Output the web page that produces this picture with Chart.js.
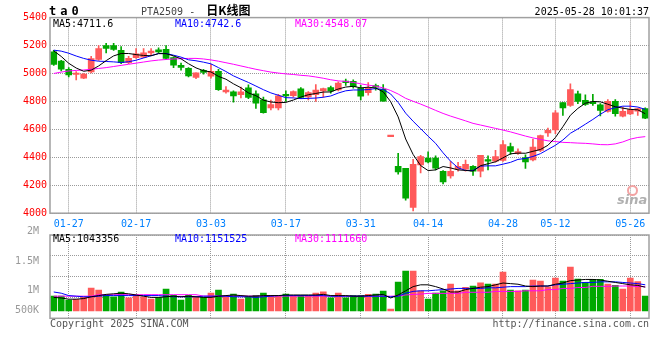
<!DOCTYPE html>
<html>
<head>
<meta charset="utf-8">
<script src="https://cdn.jsdelivr.net/npm/chart.js@4.4.0/dist/chart.umd.min.js"></script>
<style>
  body { margin: 0; background: #fff; }
  #wrap { position: relative; width: 660px; height: 360px; overflow: hidden; }
  #wrap canvas { position: absolute; left: 0; }
  .t { position: absolute; white-space: pre; font: 10px "DejaVu Sans Mono", monospace; line-height: 12px; }
</style>
</head>
<body>
<div id="wrap">
  <canvas id="kChart" width="660" height="232" style="top:0"></canvas>
  <canvas id="volChart" width="660" height="114" style="top:226px"></canvas>

  <div class="t" style="left:49px;top:3.7px;font-size:12px;line-height:14px;font-weight:bold;letter-spacing:4px;">ta0</div>
  <div class="t" style="left:141px;top:4.2px;color:#444;">PTA2509 -<span style="margin-left:11px;font-family:'Noto Sans CJK SC';font-weight:bold;font-size:12px;color:#000;">日K线图</span></div>
  <div class="t" style="right:11px;top:5.9px;">2025-05-28 10:01:37</div>

  <div class="t" style="left:53px;top:17.9px;color:#000;">MA5:4711.6</div>
  <div class="t" style="left:175px;top:17.9px;color:#0000ff;">MA10:4742.6</div>
  <div class="t" style="left:295px;top:17.9px;color:#ff00ff;">MA30:4548.07</div>

  <div style="position:absolute;left:627px;top:185px;width:7px;height:7px;border:2px solid #f3a3a3;border-radius:50%;"></div>
  <div class="t" style="left:617px;top:193px;font-family:'DejaVu Sans';font-size:13px;line-height:13px;font-weight:bold;font-style:italic;color:#b0b0b0;">sina</div>

  <div class="t" style="left:53px;top:232.5px;color:#000;">MA5:1043356</div>
  <div class="t" style="left:175px;top:232.5px;color:#0000ff;">MA10:1151525</div>
  <div class="t" style="left:295px;top:232.5px;color:#ff00ff;">MA30:1111660</div>

  <div class="t" style="left:50px;top:318px;color:#555;">Copyright 2025 SINA.COM</div>
  <div class="t" style="right:11px;top:318px;color:#555;">http://finance.sina.com.cn</div>
</div>

<script>
const dates = [
  '01-23','01-24','01-27','02-05','02-06','02-07','02-10','02-11','02-12','02-13','02-14',
  '02-17','02-18','02-19','02-20','02-21','02-24','02-25','02-26','02-27','02-28',
  '03-03','03-04','03-05','03-06','03-07','03-10','03-11','03-12','03-13','03-14',
  '03-17','03-18','03-19','03-20','03-21','03-24','03-25','03-26','03-27','03-28',
  '03-31','04-01','04-02','04-03','04-07','04-08','04-09','04-10','04-11',
  '04-14','04-15','04-16','04-17','04-18','04-21','04-22','04-23','04-24','04-25',
  '04-28','04-29','04-30','05-06','05-07','05-08','05-09',
  '05-12','05-13','05-14','05-15','05-16','05-19','05-20','05-21','05-22','05-23',
  '05-26','05-27','05-28'
];
const tickDates = ['01-27','02-17','03-03','03-17','03-31','04-14','04-28','05-12','05-26'];

const opens = [
  5155,5089,5030,4993,4966,5011,5101,5200,5200,5165,
  5077,5113,5117,5148,5170,5172,5113,5058,5037,4972,
  5022,4980,5016,4868,4868,4849,4897,4854,4811,4754,
  4754,4849,4842,4890,4833,4849,4875,4899,4882,4944,
  4944,4893,4862,4914,4886,4548,4336,4322,4041,4345,
  4395,4395,4300,4267,4315,4315,4336,4300,4384,4372,
  4377,4477,4427,4398,4382,4450,4575,4596,4791,4772,
  4855,4807,4795,4776,4729,4800,4695,4710,4731,4748
];
const highs = [
  5165,5094,5042,5013,5000,5122,5200,5216,5216,5193,
  5122,5179,5179,5179,5184,5200,5120,5075,5042,5004,
  5030,5065,5030,4906,4875,4903,4918,4875,4831,4810,
  4850,4875,4875,4900,4870,4920,4896,4910,4940,4960,
  4955,4915,4935,4925,4920,4548,4429,4322,4386,4414,
  4440,4410,4305,4371,4364,4380,4340,4414,4410,4450,
  4520,4502,4460,4418,4530,4560,4610,4735,4791,4926,
  4874,4848,4850,4784,4814,4814,4760,4800,4752,4755
];
const lows = [
  5058,5018,4975,4954,4962,5004,5094,5148,5165,5070,
  5070,5108,5113,5131,5148,5100,5042,5023,4975,4962,
  4995,4966,4878,4860,4795,4825,4820,4750,4716,4740,
  4740,4800,4830,4820,4810,4800,4830,4860,4875,4915,
  4895,4810,4845,4880,4802,4548,4279,4093,4017,4288,
  4360,4310,4210,4250,4300,4300,4270,4260,4310,4365,
  4370,4420,4420,4320,4375,4440,4550,4570,4700,4765,
  4784,4771,4771,4696,4724,4695,4689,4705,4700,4676
];
const closes = [
  5065,5030,4990,5000,4995,5106,5179,5179,5172,5077,
  5108,5141,5148,5160,5155,5108,5060,5044,4982,5004,
  5008,5016,4885,4882,4840,4868,4828,4788,4719,4778,
  4840,4840,4871,4828,4863,4882,4892,4875,4932,4935,
  4905,4838,4898,4902,4802,4548,4295,4107,4350,4405,
  4367,4322,4224,4300,4336,4350,4300,4414,4372,4405,
  4491,4443,4441,4367,4474,4555,4593,4719,4753,4884,
  4800,4779,4784,4736,4800,4712,4729,4741,4748,4681
];

const ma5 = [
  5162,5122,5073,5039,5016,5024,5054,5092,5126,5143,
  5143,5135,5129,5127,5142,5142,5126,5105,5070,5040,
  5020,5011,4979,4959,4926,4898,4861,4841,4809,4796,
  4791,4793,4810,4831,4848,4857,4867,4868,4889,4903,
  4908,4897,4902,4896,4869,4798,4689,4531,4420,4341,
  4305,4310,4334,4324,4310,4306,4302,4340,4354,4368,
  4396,4425,4430,4429,4443,4456,4486,4542,4619,4701,
  4750,4787,4800,4797,4780,4762,4752,4743,4740,4712
];
const ma10 = [
  5167,5160,5145,5125,5108,5095,5088,5086,5083,5079,
  5084,5095,5111,5127,5143,5143,5131,5117,5098,5091,
  5081,5069,5042,5014,4983,4959,4936,4910,4884,4861,
  4844,4827,4825,4820,4822,4824,4830,4839,4860,4876,
  4882,4882,4885,4892,4886,4853,4793,4716,4658,4605,
  4551,4500,4432,4372,4325,4306,4306,4337,4339,4339,
  4351,4364,4385,4392,4406,4426,4456,4486,4524,4572,
  4603,4637,4671,4708,4740,4756,4766,4766,4760,4743
];
const ma30 = [
  5000,5010,5018,5022,5025,5030,5036,5042,5050,5058,
  5066,5074,5082,5090,5096,5100,5104,5106,5108,5108,
  5104,5097,5088,5077,5066,5054,5042,5030,5020,5010,
  5003,4997,4993,4987,4983,4975,4966,4955,4947,4943,
  4936,4926,4917,4909,4897,4878,4853,4822,4801,4781,
  4759,4736,4714,4695,4678,4661,4643,4631,4619,4607,
  4595,4582,4567,4552,4539,4528,4518,4513,4507,4505,
  4502,4500,4496,4491,4490,4496,4510,4530,4542,4548
];

const volumes = [
  912000,910000,845000,857000,890000,1045000,1012000,923000,900000,978000,
  883000,923000,900000,862000,890000,1028000,923000,845000,923000,890000,
  890000,962000,1012000,900000,945000,862000,900000,923000,962000,923000,
  923000,945000,923000,923000,923000,962000,984000,884000,962000,884000,
  923000,923000,940000,945000,995000,695000,1145000,1328000,1328000,1000000,
  862000,962000,1000000,1112000,1000000,1056000,1078000,1133000,1112000,1112000,
  1312000,1012000,1000000,1012000,1178000,1162000,1067000,1212000,1162000,1395000,
  1195000,1140000,1190000,1190000,1112000,1090000,1028000,1212000,1156000,912000
];
const volMa5 = [
  890000,880000,860000,860000,870000,900000,920000,940000,950000,960000,
  950000,930000,910000,890000,890000,900000,910000,900000,910000,900000,
  890000,890000,910000,920000,930000,920000,910000,910000,920000,920000,
  920000,930000,930000,930000,930000,930000,940000,920000,920000,920000,
  910000,910000,920000,930000,940000,880000,930000,1000000,1070000,1100000,
  1100000,1070000,1030000,980000,980000,1020000,1040000,1060000,1070000,1100000,
  1130000,1120000,1110000,1080000,1070000,1080000,1080000,1110000,1130000,1170000,
  1180000,1190000,1190000,1180000,1160000,1140000,1120000,1100000,1090000,1060000
];
const volMa10 = [
  980000,960000,920000,910000,900000,900000,910000,920000,920000,920000,
  920000,920000,920000,920000,920000,910000,900000,900000,900000,900000,
  910000,910000,910000,910000,900000,900000,900000,890000,900000,910000,
  920000,920000,920000,920000,920000,920000,920000,910000,910000,910000,
  910000,910000,910000,910000,910000,900000,910000,960000,990000,1000000,
  1000000,1010000,1020000,1030000,1040000,1040000,1040000,1040000,1050000,1050000,
  1060000,1070000,1070000,1070000,1080000,1080000,1080000,1100000,1110000,1120000,
  1130000,1140000,1140000,1150000,1150000,1150000,1140000,1130000,1120000,1100000
];
const volMa30 = [
  910000,910000,910000,910000,910000,910000,935000,935000,935000,935000,
  935000,935000,935000,935000,935000,935000,935000,935000,935000,935000,
  912000,912000,912000,912000,912000,912000,912000,912000,912000,912000,
  912000,912000,912000,912000,912000,912000,912000,910000,910000,910000,
  910000,910000,910000,910000,910000,910000,915000,930000,940000,945000,
  957000,957000,957000,957000,957000,975000,975000,975000,975000,990000,
  990000,990000,990000,1000000,1000000,1000000,1020000,1020000,1040000,1040000,
  1055000,1055000,1075000,1075000,1075000,1080000,1080000,1080000,1070000,1070000
];
const volTickValues = [665000, 1000000, 1500000, 2000000];
const volTickLabels = ['500K', '1M', '1.5M', '2M'];

const UP = '#ff5a5a', DOWN = '#00a800';
const candleColors = opens.map((o, i) => closes[i] >= o ? UP : DOWN);
const monoFont = { family: 'DejaVu Sans Mono', size: 10 };
const gridColor = c => tickDates.includes(dates[c.index]) ? '#9a9a9a' : 'rgba(0,0,0,0)';

const frame = {
  id: 'frame',
  afterDraw(chart) {
    const { ctx, chartArea: a } = chart;
    ctx.save();
    ctx.strokeStyle = '#a0a0a0';
    ctx.lineWidth = 1.5;
    ctx.strokeRect(a.left, a.top, a.right - a.left, a.bottom - a.top);
    ctx.restore();
  }
};

function maLine(data, color) {
  return { type: 'line', data: data, borderColor: color, borderWidth: 1, pointRadius: 0,
           pointHitRadius: 0, fill: false, tension: 0, order: 0 };
}

new Chart(document.getElementById('kChart'), {
  type: 'bar',
  data: {
    labels: dates,
    datasets: [
      maLine(ma5, '#000000'),
      maLine(ma10, '#0000ff'),
      maLine(ma30, '#ff00ff'),
      { data: opens.map((o, i) => [o, closes[i]]), backgroundColor: candleColors,
        barThickness: 6, minBarLength: 1.5, grouped: false, order: 1 },
      { data: lows.map((l, i) => [l, highs[i]]), backgroundColor: candleColors,
        barThickness: 1, grouped: false, order: 2 }
    ]
  },
  options: {
    responsive: false,
    animation: false,
    devicePixelRatio: 1,
    layout: { padding: { left: 0, right: 11, top: 17.6, bottom: 0 } },
    plugins: { legend: { display: false }, tooltip: { enabled: false } },
    scales: {
      x: {
        offset: true,
        grid: { offset: false, drawTicks: false, color: gridColor },
        border: { display: false, dash: [1, 1] },
        ticks: { autoSkip: false, maxRotation: 0, padding: 5, color: '#0080ff', font: monoFont,
                 callback: (v, i) => tickDates.includes(dates[i]) ? dates[i] : '' },
        afterFit: s => { s.height = 232 - 213.2; }
      },
      y: {
        min: 4000, max: 5400,
        ticks: { stepSize: 200, padding: 3, color: '#ff0000', font: monoFont,
                 callback: v => String(v) },
        grid: { color: '#9a9a9a', drawTicks: false },
        border: { display: false, dash: [1, 1] },
        afterFit: s => { s.width = 50; }
      }
    }
  },
  plugins: [frame]
});

new Chart(document.getElementById('volChart'), {
  type: 'bar',
  data: {
    labels: dates,
    datasets: [
      maLine(volMa5, '#000000'),
      maLine(volMa10, '#0000ff'),
      maLine(volMa30, '#ff00ff'),
      { data: volumes, backgroundColor: candleColors, barThickness: 6, base: 665000,
        grouped: false, order: 1 }
    ]
  },
  options: {
    responsive: false,
    animation: false,
    devicePixelRatio: 1,
    layout: { padding: { left: 0, right: 11, top: 8.7, bottom: 21.7 } },
    plugins: { legend: { display: false }, tooltip: { enabled: false } },
    scales: {
      x: {
        offset: true,
        grid: { offset: false, drawTicks: false, color: gridColor },
        border: { display: false, dash: [1, 1] },
        ticks: { display: false },
        afterFit: s => { s.height = 0; }
      },
      y: {
        min: 540000, max: 1933333,
        grid: { display: false },
        border: { display: false },
        ticks: { autoSkip: false, padding: 3, color: '#999999', font: monoFont,
                 callback: v => volTickLabels[volTickValues.indexOf(v)] },
        afterBuildTicks: s => { s.ticks = volTickValues.map(v => ({ value: v })); },
        afterFit: s => { s.width = 50; }
      },
      g: {
        position: 'left',
        min: 0, max: 4,
        ticks: { display: false, stepSize: 1 },
        grid: { color: '#9a9a9a', drawTicks: false },
        border: { display: false, dash: [1, 1] },
        afterFit: s => { s.width = 0; }
      }
    }
  },
  plugins: [frame]
});
</script>
</body>
</html>
